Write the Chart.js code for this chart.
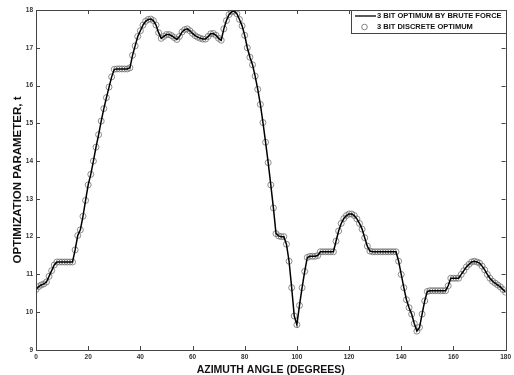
<!DOCTYPE html>
<html>
<head>
<meta charset="utf-8">
<script src="https://cdn.jsdelivr.net/npm/chart.js@4.4.1/dist/chart.umd.min.js"></script>
<style>
  body { margin: 0; background: #fff; }
  #wrap { width: 514px; height: 375px; }
</style>
</head>
<body>
<div id="wrap"><canvas id="optChart" width="514" height="375"></canvas></div>
<script>
// azimuth angles, one every degree
const angles = [
    0, 1, 2, 3, 4, 5, 6, 7, 8, 9, 10, 11, 12, 13, 14, 15, 16, 17, 18, 19,
    20, 21, 22, 23, 24, 25, 26, 27, 28, 29, 30, 31, 32, 33, 34, 35, 36, 37, 38, 39,
    40, 41, 42, 43, 44, 45, 46, 47, 48, 49, 50, 51, 52, 53, 54, 55, 56, 57, 58, 59,
    60, 61, 62, 63, 64, 65, 66, 67, 68, 69, 70, 71, 72, 73, 74, 75, 76, 77, 78, 79,
    80, 81, 82, 83, 84, 85, 86, 87, 88, 89, 90, 91, 92, 93, 94, 95, 96, 97, 98, 99,
    100, 101, 102, 103, 104, 105, 106, 107, 108, 109, 110, 111, 112, 113, 114, 115, 116, 117, 118, 119,
    120, 121, 122, 123, 124, 125, 126, 127, 128, 129, 130, 131, 132, 133, 134, 135, 136, 137, 138, 139,
    140, 141, 142, 143, 144, 145, 146, 147, 148, 149, 150, 151, 152, 153, 154, 155, 156, 157, 158, 159,
    160, 161, 162, 163, 164, 165, 166, 167, 168, 169, 170, 171, 172, 173, 174, 175, 176, 177, 178, 179,
    180
];

// 3 bit optimum by brute force
const bruteForce = [
    10.60, 10.68, 10.72, 10.75, 10.80, 10.95, 11.10, 11.25, 11.33, 11.33,
    11.33, 11.33, 11.33, 11.33, 11.33, 11.65, 12.03, 12.18, 12.54, 12.96,
    13.37, 13.65, 14.00, 14.37, 14.70, 15.06, 15.39, 15.68, 15.96, 16.23,
    16.43, 16.44, 16.44, 16.44, 16.44, 16.44, 16.47, 16.80, 17.05, 17.30,
    17.45, 17.60, 17.70, 17.75, 17.76, 17.72, 17.60, 17.40, 17.25, 17.30,
    17.35, 17.35, 17.32, 17.27, 17.22, 17.30, 17.42, 17.48, 17.50, 17.45,
    17.38, 17.32, 17.28, 17.25, 17.23, 17.23, 17.30, 17.37, 17.38, 17.33,
    17.25, 17.20, 17.50, 17.72, 17.88, 17.95, 17.97, 17.90, 17.75, 17.58,
    17.33, 17.00, 16.75, 16.55, 16.25, 15.90, 15.50, 15.02, 14.50, 13.96,
    13.37, 12.76, 12.08, 12.02, 12.00, 12.00, 11.80, 11.35, 10.65, 9.90,
    9.67, 10.18, 10.65, 11.08, 11.45, 11.48, 11.48, 11.48, 11.50, 11.60,
    11.60, 11.60, 11.60, 11.60, 11.60, 11.88, 12.15, 12.35, 12.48, 12.56,
    12.60, 12.60, 12.56, 12.47, 12.35, 12.20, 11.97, 11.75, 11.62, 11.60,
    11.60, 11.60, 11.60, 11.60, 11.60, 11.60, 11.60, 11.60, 11.60, 11.35,
    11.00, 10.65, 10.33, 10.12, 9.95, 9.70, 9.50, 9.60, 9.95, 10.30,
    10.55, 10.57, 10.57, 10.57, 10.57, 10.57, 10.57, 10.57, 10.70, 10.90,
    10.90, 10.90, 10.90, 11.00, 11.10, 11.20, 11.27, 11.33, 11.35, 11.33,
    11.30, 11.22, 11.12, 11.00, 10.90, 10.82, 10.77, 10.72, 10.67, 10.60,
    10.53
];

// 3 bit discrete optimum (sits on the brute force curve)
const discrete = bruteForce.slice();

const xTicks = [0, 20, 40, 60, 80, 100, 120, 140, 160, 180];
const yTicks = [9, 10, 11, 12, 13, 14, 15, 16, 17, 18];

const seriesLabels = ['3 BIT OPTIMUM BY BRUTE FORCE', '3 BIT DISCRETE OPTIMUM'];

function toPoints(xs, ys) {
    return xs.map(function (x, i) { return { x: x, y: ys[i] }; });
}

// box, inward ticks and the legend, matlab style
const framePlugin = {
    id: 'frame',
    afterDraw: function (chart) {
        const ctx = chart.ctx;
        const a = chart.chartArea;
        const xs = chart.scales.x, ys = chart.scales.y;
        ctx.save();
        ctx.strokeStyle = '#444';
        ctx.lineWidth = 1;
        ctx.strokeRect(Math.round(a.left) + 0.5, Math.round(a.top) + 0.5,
            Math.round(a.right - a.left), Math.round(a.bottom - a.top));
        const tl = 4;
        ctx.beginPath();
        xTicks.forEach(function (v) {
            const px = Math.round(xs.getPixelForValue(v)) + 0.5;
            ctx.moveTo(px, a.bottom); ctx.lineTo(px, a.bottom - tl);
            ctx.moveTo(px, a.top); ctx.lineTo(px, a.top + tl);
        });
        yTicks.forEach(function (v) {
            const py = Math.round(ys.getPixelForValue(v)) + 0.5;
            ctx.moveTo(a.left, py); ctx.lineTo(a.left + tl, py);
            ctx.moveTo(a.right, py); ctx.lineTo(a.right - tl, py);
        });
        ctx.stroke();

        // legend
        const lx = 351.5, ly = Math.round(a.top) + 0.5, lw = Math.round(a.right) - 351, lh = 23;
        ctx.fillStyle = '#fff';
        ctx.fillRect(lx, ly, lw, lh);
        ctx.strokeStyle = '#444';
        ctx.strokeRect(lx, ly, lw, lh);
        ctx.font = 'bold 7.5px "Liberation Sans", Arial, sans-serif';
        ctx.fillStyle = '#111';
        ctx.textBaseline = 'middle';
        ctx.textAlign = 'left';
        ctx.beginPath();
        ctx.strokeStyle = '#000';
        ctx.lineWidth = 1.3;
        ctx.moveTo(355, ly + 5.5); ctx.lineTo(376, ly + 5.5);
        ctx.stroke();
        ctx.fillText(seriesLabels[0], 377, ly + 5.5);
        ctx.beginPath();
        ctx.strokeStyle = '#666';
        ctx.lineWidth = 0.8;
        ctx.arc(364.5, ly + 16.5, 2.8, 0, Math.PI * 2);
        ctx.stroke();
        ctx.fillText(seriesLabels[1], 377, ly + 16.5);
        ctx.restore();
    }
};

const tickFont = { family: '"Liberation Sans", Arial, sans-serif', size: 6.5, weight: 'bold' };
const titleFontX = { family: '"Liberation Sans", Arial, sans-serif', size: 10.5, weight: 'bold', lineHeight: 1 };
const titleFontY = { family: '"Liberation Sans", Arial, sans-serif', size: 11.5, weight: 'bold', lineHeight: 1 };

const ctx = document.getElementById('optChart').getContext('2d');
const optChart = new Chart(ctx, {
    type: 'line',
    data: {
        datasets: [{
            label: seriesLabels[0],
            data: toPoints(angles, bruteForce),
            borderColor: '#000',
            borderWidth: 1.5,
            pointRadius: 0,
            tension: 0,
            fill: false,
            order: 0
        }, {
            label: seriesLabels[1],
            data: toPoints(angles, discrete),
            showLine: false,
            pointStyle: 'circle',
            pointRadius: 3,
            pointBorderWidth: 0.8,
            pointBorderColor: '#707070',
            pointBackgroundColor: 'rgba(255,255,255,0)',
            order: 1
        }]
    },
    options: {
        responsive: false,
        animation: false,
        layout: { padding: { left: 0, right: 8, top: 10, bottom: 0 } },
        plugins: {
            legend: { display: false },
            tooltip: { enabled: false }
        },
        scales: {
            x: {
                type: 'linear',
                min: 0,
                max: 180,
                grid: { display: false, drawTicks: false },
                border: { display: false },
                ticks: {
                    stepSize: 20,
                    font: tickFont,
                    color: '#333',
                    padding: 3,
                    maxRotation: 0
                },
                title: {
                    display: true,
                    text: 'AZIMUTH ANGLE (DEGREES)',
                    font: titleFontX,
                    color: '#111',
                    padding: { top: 0, bottom: 0 }
                },
                afterFit: function (scale) { scale.height = 25; }
            },
            y: {
                min: 9,
                max: 18,
                grid: { display: false, drawTicks: false },
                border: { display: false },
                ticks: {
                    stepSize: 1,
                    font: tickFont,
                    color: '#333',
                    padding: 3
                },
                title: {
                    display: true,
                    text: 'OPTIMIZATION PARAMETER, t',
                    font: titleFontY,
                    color: '#111',
                    padding: { top: 12, bottom: 0 }
                },
                afterFit: function (scale) { scale.width = 36; }
            }
        }
    },
    plugins: [framePlugin]
});
</script>
</body>
</html>
